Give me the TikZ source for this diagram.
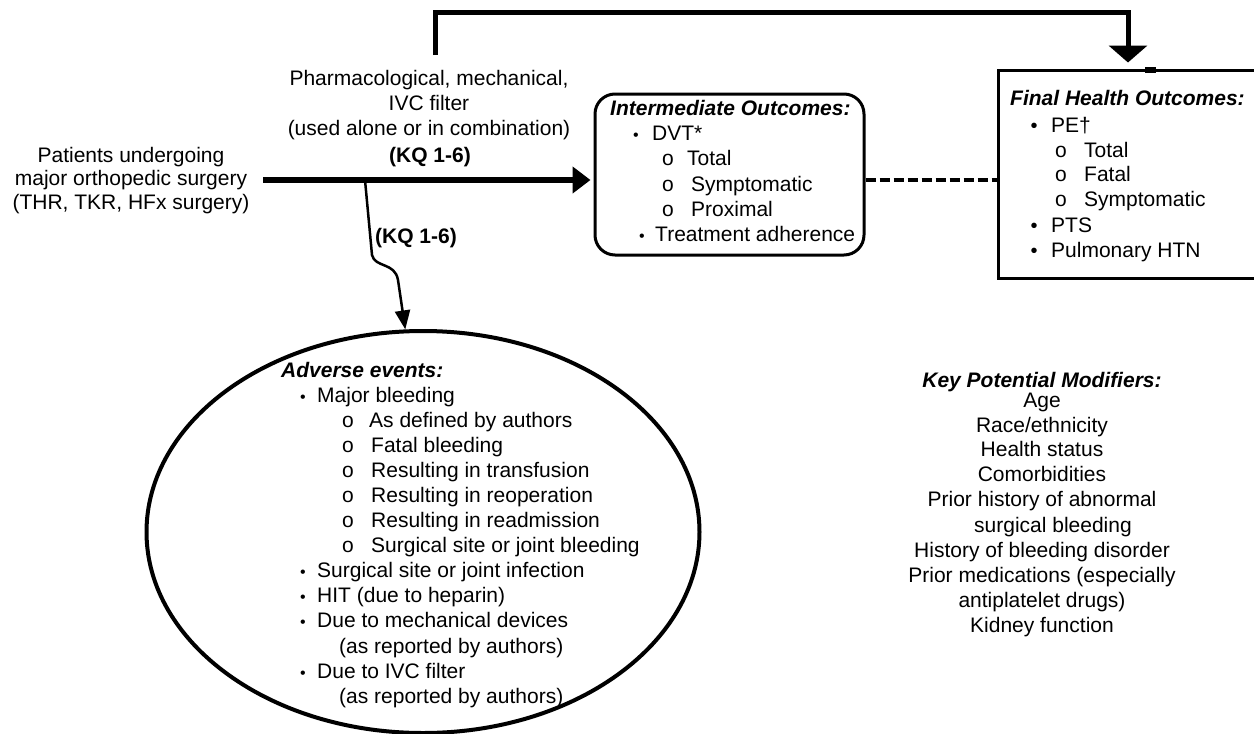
\documentclass[tikz,border=0pt]{standalone}
\usepackage{fontspec}
\setmainfont{Liberation Sans}
\usetikzlibrary{arrows.meta,shapes.geometric}
\newcommand\fs{\fontsize{21}{25}\selectfont}
\begin{document}
\begin{tikzpicture}[x=1pt,y=-1pt,
  txt/.style={inner sep=0pt,font=\fs,text height=15pt,text depth=4pt},
  hd/.style={txt,font=\fs\bfseries\itshape},
  kq/.style={txt,font=\fs\bfseries},
  bul/.style={inner sep=0pt,font=\fontsize{16}{16}\selectfont,text height=15pt,text depth=4pt},
  bigbul/.style={inner sep=0pt,font=\fontsize{20}{20}\selectfont,text height=15pt,text depth=4pt},
  thickarrow/.style={line width=6pt,-{Triangle[width=26pt,length=18pt]}},
]
\useasboundingbox (0,0) rectangle (1254,734);
\clip (0,0) rectangle (1254,734);

% boxes
\node[draw,line width=3pt,rounded corners=20pt,minimum width=269pt,minimum height=161pt,inner sep=0pt] (inter) at (729.5,174.5) {};
\node[draw,line width=3pt,minimum width=266pt,minimum height=208pt,inner sep=0pt] (fin) at (1131,174) {};
\node[draw,ellipse,line width=4pt,minimum width=553pt,minimum height=402pt,inner sep=0pt] (ae) at (423,532) {};
\fill (1145,67) rectangle (1156,73);

% connectors
\coordinate (src) at (263,180);
\coordinate (brn) at (365,180);
\coordinate (topL) at (435,55);
\coordinate (topA) at (435,12);
\coordinate (topB) at (1128,12);
\draw[thickarrow,shorten >=3pt] (src) -- (inter.west |- src);
\draw[line width=5pt,-{Triangle[width=38pt,length=17pt]},shorten >=6pt] (topL) -- (topA) -- (topB) -- (topB |- fin.north);
\draw[line width=4.5pt,dash pattern=on 10pt off 4pt] (inter.east |- src) -- (fin.west |- src);
\draw[line width=2.5pt,-{Triangle[width=15pt,length=19pt]}] (brn) -- (372,255) .. controls (375,268) and (395,262) .. (398,280) -- (ae.95);

% left texts
\node[txt] (p1) at (131,157) {Patients undergoing};
\node[txt] (p2) at (131,180) {major orthopedic surgery};
\node[txt] (p3) at (131,204) {(THR, TKR, HFx surgery)};

\node[txt] (i1) at (429,80) {Pharmacological, mechanical,};
\node[txt] (i2) at (429,105) {IVC filter};
\node[txt] (i3) at (429,130) {(used alone or in combination)};
\node[kq] (k1) at (430,157) {(KQ 1-6)};
\node[kq] (k2) at (416,238) {(KQ 1-6)};

% intermediate outcomes
\node[hd,anchor=west] (ih) at (610,110) {Intermediate Outcomes:};
\node[bul] (ib1) at (636,135) {•};
\node[txt,anchor=west] (it1) at (652,135) {DVT*};
\node[txt,anchor=west] (io1) at (662,160) {o};
\node[txt,anchor=west] (it2) at (687,160) {Total};
\node[txt,anchor=west] (io2) at (662,186) {o};
\node[txt,anchor=west] (it3) at (691,186) {Symptomatic};
\node[txt,anchor=west] (io3) at (662,211) {o};
\node[txt,anchor=west] (it4) at (691,211) {Proximal};
\node[bul] (ib2) at (642,236) {•};
\node[txt,anchor=west] (it5) at (655,236) {Treatment adherence};

% final outcomes
\node[hd,anchor=west] (fh) at (1010,100) {Final Health Outcomes:};
\node[bigbul] (fb1) at (1034,127) {•};
\node[txt,anchor=west] (ft1) at (1051,127) {PE†};
\node[txt,anchor=west] (fo1) at (1055,152) {o};
\node[txt,anchor=west] (ft2) at (1084,152) {Total};
\node[txt,anchor=west] (fo2) at (1055,176) {o};
\node[txt,anchor=west] (ft3) at (1084,176) {Fatal};
\node[txt,anchor=west] (fo3) at (1055,201) {o};
\node[txt,anchor=west] (ft4) at (1084,201) {Symptomatic};
\node[bigbul] (fb2) at (1034,227) {•};
\node[txt,anchor=west] (ft5) at (1051,227) {PTS};
\node[bigbul] (fb3) at (1034,252) {•};
\node[txt,anchor=west] (ft6) at (1051,252) {Pulmonary HTN};

% adverse events
\node[hd,anchor=west] (ah) at (281,372) {Adverse events:};
\foreach \n/\y in {1/397,2/572,3/597,4/622,5/673}
  \node[bul] (ab\n) at (303,\y) {•};
\foreach \n/\y in {1/422,2/447,3/472,4/497,5/522,6/547}
  \node[txt,anchor=west] (ao\n) at (342,\y) {o};
\node[txt,anchor=west] (at1) at (317,397) {Major bleeding};
\node[txt,anchor=west] (at2) at (369,422) {As defined by authors};
\node[txt,anchor=west] (at3) at (371,447) {Fatal bleeding};
\node[txt,anchor=west] (at4) at (371,472) {Resulting in transfusion};
\node[txt,anchor=west] (at5) at (371,497) {Resulting in reoperation};
\node[txt,anchor=west] (at6) at (371,522) {Resulting in readmission};
\node[txt,anchor=west] (at7) at (371,547) {Surgical site or joint bleeding};
\node[txt,anchor=west] (at8) at (317,572) {Surgical site or joint infection};
\node[txt,anchor=west] (at9) at (317,597) {HIT (due to heparin)};
\node[txt,anchor=west] (at10) at (317,622) {Due to mechanical devices};
\node[txt,anchor=west] (at11) at (339,648) {(as reported by authors)};
\node[txt,anchor=west] (at12) at (317,673) {Due to IVC filter};
\node[txt,anchor=west] (at13) at (339,698) {(as reported by authors)};

% modifiers
\node[hd] (mh) at (1042,382) {Key Potential Modifiers:};
\node[txt] (m1) at (1042,402) {Age};
\node[txt] (m2) at (1042,427) {Race/ethnicity};
\node[txt] (m3) at (1042,451) {Health status};
\node[txt] (m4) at (1042,476) {Comorbidities};
\node[txt] (m5) at (1042,501) {Prior history of abnormal};
\node[txt] (m6) at (1053,527) {surgical bleeding};
\node[txt] (m7) at (1042,552) {History of bleeding disorder};
\node[txt] (m8) at (1042,577) {Prior medications (especially};
\node[txt] (m9) at (1042,602) {antiplatelet drugs)};
\node[txt] (m10) at (1042,627) {Kidney function};
\end{tikzpicture}
\end{document}
